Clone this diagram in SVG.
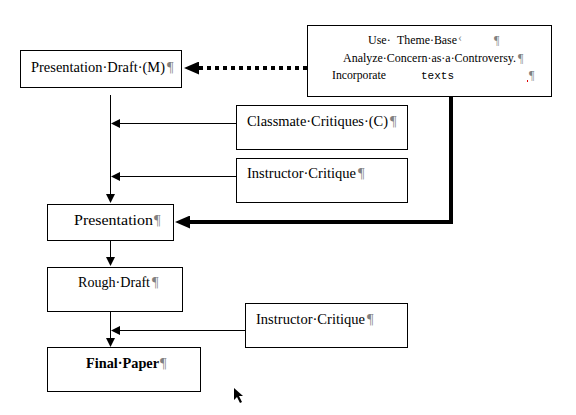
<svg xmlns="http://www.w3.org/2000/svg" width="576" height="415" viewBox="0 0 576 415">
<style>
.box{fill:#fff;stroke:#000;stroke-width:1}
.t{font-family:"Liberation Serif","Times New Roman",serif;font-size:14.5px;fill:#000}
.s{font-family:"Liberation Serif","Times New Roman",serif;font-size:12px;fill:#000}
.m{font-family:"Liberation Mono","Courier New",monospace;font-size:11px;fill:#000}
.p{fill:#808080}
.b{font-weight:bold}
.ln{fill:none;stroke:#000;stroke-width:1}
</style>
<defs>
<marker id="ah" markerUnits="userSpaceOnUse" markerWidth="9" markerHeight="9" refX="0" refY="4.5" orient="auto">
<path d="M0,0 L9,4.5 L0,9 Z" fill="#000"/>
</marker>
<marker id="ahb" markerUnits="userSpaceOnUse" markerWidth="15" markerHeight="13" refX="0" refY="6.5" orient="auto">
<path d="M0,0 L15,6.5 L0,13 Z" fill="#000"/>
</marker>
</defs>
<rect width="576" height="415" fill="#fff"/>
<g id="connectors">
<line x1="307" y1="68" x2="199" y2="68" stroke="#000" stroke-width="4" stroke-dasharray="4 4" marker-end="url(#ahb)"/>
<polyline points="451,97 451,222 190,222" fill="none" stroke="#000" stroke-width="4" marker-end="url(#ahb)"/>
<line class="ln" x1="110.5" y1="95" x2="110.5" y2="194" marker-end="url(#ah)"/>
<line class="ln" x1="236" y1="123.5" x2="120" y2="123.5" marker-end="url(#ah)"/>
<line class="ln" x1="236" y1="176.5" x2="120" y2="176.5" marker-end="url(#ah)"/>
<line class="ln" x1="110.5" y1="241" x2="110.5" y2="257" marker-end="url(#ah)"/>
<line class="ln" x1="110.5" y1="312" x2="110.5" y2="338" marker-end="url(#ah)"/>
<line class="ln" x1="245" y1="330.5" x2="120" y2="330.5" marker-end="url(#ah)"/>
</g>
<g id="node-theme">
<rect class="box" x="307.5" y="25.5" width="244" height="71"/>
<text class="s" x="368" y="44">Use·</text>
<text class="s" x="397" y="44" textLength="60" lengthAdjust="spacingAndGlyphs">Theme·Base</text>
<text class="s p" x="458" y="41" font-size="8">‹</text>
<text class="s p" x="494" y="44">¶</text>
<text class="s" x="343" y="62" textLength="173" lengthAdjust="spacingAndGlyphs">Analyze·Concern·as·a·Controversy.</text>
<text class="s p" x="518" y="62">¶</text>
<text class="s" x="332" y="79" textLength="54" lengthAdjust="spacingAndGlyphs">Incorporate</text>
<text class="m" x="421" y="79" textLength="33" lengthAdjust="spacingAndGlyphs">texts</text>
<rect x="527" y="80" width="1" height="2" fill="#e00000"/>
<text class="s p" x="529" y="79">¶</text>
</g>
<g id="node-presentation-draft">
<rect class="box" x="20.5" y="50.5" width="161" height="37"/>
<text class="t" x="31" y="72" textLength="134" lengthAdjust="spacingAndGlyphs">Presentation·Draft·(M)</text>
<text class="t p" x="167" y="72" font-size="11">¶</text>
</g>
<g id="node-classmate">
<rect class="box" x="236.5" y="105.5" width="171" height="44"/>
<text class="t" x="247" y="126" textLength="141" lengthAdjust="spacingAndGlyphs">Classmate·Critiques·(C)</text>
<text class="t p" x="390" y="126">¶</text>
</g>
<g id="node-instructor-1">
<rect class="box" x="236.5" y="158.5" width="171" height="44"/>
<text class="t" x="247" y="178" textLength="109" lengthAdjust="spacingAndGlyphs">Instructor·Critique</text>
<text class="t p" x="358" y="178">¶</text>
</g>
<g id="node-presentation">
<rect class="box" x="47.5" y="204.5" width="126" height="36"/>
<text class="t" x="74" y="225" textLength="79" lengthAdjust="spacingAndGlyphs">Presentation</text>
<text class="t p" x="154" y="225">¶</text>
</g>
<g id="node-rough-draft">
<rect class="box" x="47.5" y="267.5" width="135" height="44"/>
<text class="t" x="78" y="287" textLength="72" lengthAdjust="spacingAndGlyphs">Rough·Draft</text>
<text class="t p" x="152" y="287">¶</text>
</g>
<g id="node-instructor-2">
<rect class="box" x="245.5" y="303.5" width="162" height="44"/>
<text class="t" x="256" y="324" textLength="109" lengthAdjust="spacingAndGlyphs">Instructor·Critique</text>
<text class="t p" x="367" y="324">¶</text>
</g>
<g id="node-final-paper">
<rect class="box" x="47.5" y="347.5" width="153" height="44"/>
<text class="t b" x="86" y="368" textLength="73" lengthAdjust="spacingAndGlyphs">Final·Paper</text>
<text class="t p" x="160" y="368">¶</text>
</g>
<path d="M234,388 L234,400 L237,397 L240,403 L242,402 L239,396 L243,396 Z" fill="#000"/>
</svg>
